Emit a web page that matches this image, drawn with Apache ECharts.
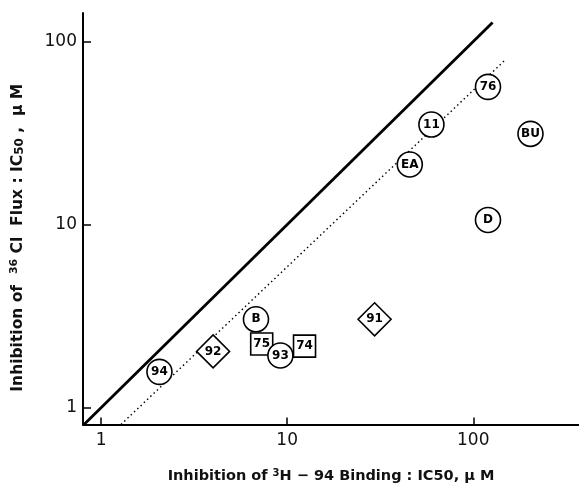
<!DOCTYPE html>
<html><head><meta charset="utf-8">
<script src="https://cdn.jsdelivr.net/npm/echarts@6/dist/echarts.min.js"></script>
<style>html,body{margin:0;padding:0;background:#fff}#c{width:579px;height:489px}</style>
</head><body><div id="c"></div>
<script>
// Data
const labels = ['76','11','BU','EA','D','B','75','93','74','92','94','91'];
const bindingIC50 = [120, 59.6, 203, 45.6, 120, 6.8, 7.3, 9.2, 12.4, 4.0, 2.06, 29.5];
const fluxIC50 = [56.5, 35.2, 31.3, 21.3, 10.6, 3.04, 2.23, 1.93, 2.17, 2.03, 1.57, 3.04];
const shapes = ['circle','circle','circle','circle','circle','circle','rect','circle','rect','diamond','circle','diamond'];
const identityLine = [[0.8, 0.8], [127, 127]];
const fitLine = [[1.28, 0.81], [148, 79]];
const tickValues = [1, 10, 100];

const sizeOf = s => s === 'diamond' ? [33, 33] : (s === 'rect' ? [22, 22] : 25);
const pts = labels.map((n, i) => ({
  name: n, value: [bindingIC50[i], fluxIC50[i]],
  symbol: shapes[i], symbolSize: sizeOf(shapes[i])
}));

const chart = echarts.init(document.getElementById('c'));
const font = 'DejaVu Sans';
chart.setOption({
  animation: false,
  backgroundColor: '#fff',
  grid: {left: 83, right: 0, top: 13, bottom: 57, containLabel: false},
  xAxis: {
    type: 'log', logBase: 10, min: 0.8, max: 370,
    axisLine: {lineStyle: {color: '#000', width: 2}},
    axisTick: {inside: true, length: 7, lineStyle: {color: '#000', width: 1.5}, customValues: tickValues},
    axisLabel: {color: '#111', fontSize: 17, fontFamily: font, margin: 8, customValues: tickValues},
    splitLine: {show: false}, minorTick: {show: false},
    name: '{a|Inhibition of }{s|3}{a|H − 94 Binding : IC50, μ M}',
    nameLocation: 'middle', nameGap: 44,
    nameTextStyle: {
      rich: {
        a: {fontSize: 14.5, fontWeight: 'bold', fontFamily: font, color: '#111'},
        s: {fontSize: 10, fontWeight: 'bold', fontFamily: font, color: '#111', verticalAlign: 'top', padding: [0, 0, 6, 0]}
      }
    }
  },
  yAxis: {
    type: 'log', logBase: 10, min: 0.81, max: 143,
    axisLine: {lineStyle: {color: '#000', width: 2}},
    axisTick: {inside: true, length: 8, lineStyle: {color: '#000', width: 1.5}, customValues: tickValues},
    axisLabel: {color: '#111', fontSize: 17, fontFamily: font, margin: 6, customValues: tickValues},
    splitLine: {show: false}, minorTick: {show: false},
    name: '{a|Inhibition of  }{s|36}{a| Cl  Flux : IC}{b|50}{a| ,  μ M}',
    nameLocation: 'middle', nameGap: 57, nameRotate: 90,
    nameTextStyle: {
      padding: [0, 38, 0, 0],
      rich: {
        a: {fontSize: 15.5, fontWeight: 'bold', fontFamily: font, color: '#111'},
        s: {fontSize: 11, fontWeight: 'bold', fontFamily: font, color: '#111', verticalAlign: 'top', padding: [0, 0, 6, 0]},
        b: {fontSize: 12, fontWeight: 'bold', fontFamily: font, color: '#111', verticalAlign: 'bottom', padding: [4, 0, 0, 0]}
      }
    }
  },
  series: [
    {type: 'line', data: identityLine, symbol: 'none', lineStyle: {color: '#000', width: 2.8}, z: 2},
    {type: 'line', data: fitLine, symbol: 'none', lineStyle: {color: '#000', width: 1.4, type: [1.5, 3]}, z: 2},
    {
      type: 'scatter', data: pts, z: 5,
      itemStyle: {color: '#fff', borderColor: '#000', borderWidth: 1.6, opacity: 1},
      label: {show: true, position: 'inside', formatter: '{b}', color: '#000', fontSize: 12, fontWeight: 'bold', fontFamily: font}
    }
  ]
});
</script></body></html>
